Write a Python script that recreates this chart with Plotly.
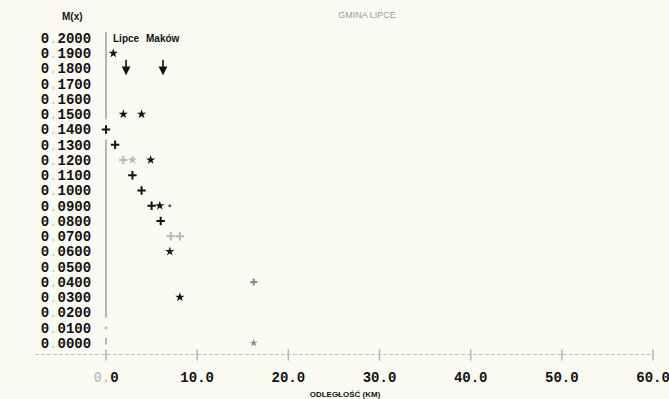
import plotly.graph_objects as go

# Gmina Lipce: M(x) against distance (km)
star_dark_x = [0.8, 1.9, 3.9, 4.9, 5.9, 7.0, 8.1]
star_dark_y = [0.19, 0.15, 0.15, 0.12, 0.09, 0.06, 0.03]

plus_dark_x = [0.0, 1.0, 2.9, 3.9, 5.0, 6.0]
plus_dark_y = [0.14, 0.13, 0.11, 0.10, 0.09, 0.08]

plus_light_x = [1.9, 7.1, 8.1]
plus_light_y = [0.12, 0.07, 0.07]

star_light_x = [2.9]
star_light_y = [0.12]

far_plus_x = [16.2]
far_plus_y = [0.04]
far_star_x = [16.2]
far_star_y = [0.0]

dot_x = [7.0, 0.0]
dot_y = [0.09, 0.01]

y_ticks = [i / 100 for i in range(0, 21)]
x_ticks = [0, 10, 20, 30, 40, 50, 60]

towns = ["Lipce", "Maków"]
town_x = [2.2, 6.25]

X_MIN, X_MAX = -8.336, 60.764
Y_MIN, Y_MAX = -0.00787, 0.20525
BASE_Y = Y_MIN

GRAY = "#b4b4b4"
INK = "#111111"
MONO = "Liberation Mono"


def y_label(v):
    s = f"{v:.4f}"
    head, tail = s.split(".")
    return f"{head}<span style='color:#cfcfcf'>.</span>{tail}"


def x_label(v):
    if v == 0:
        return "<span style='color:#c4c4c4'>0.</span>0"
    return f"{v:.1f}"


fig = go.Figure()

# vertical guide at x = 0, broken where points sit on it
on_axis = sorted(y for x, y in zip(plus_dark_x + dot_x, plus_dark_y + dot_y) if x == 0)
gap = 0.0065
top, bottom = 0.2039, -0.001
seg_x, seg_y = [], []
cur = top
for v in sorted(on_axis, reverse=True):
    seg_x += [0, 0, None]
    seg_y += [cur, v + gap, None]
    cur = v - gap
seg_x += [0, 0]
seg_y += [cur, bottom]
fig.add_trace(go.Scatter(x=seg_x, y=seg_y, mode="lines",
                         line=dict(color=GRAY, width=2), hoverinfo="skip",
                         showlegend=False))

# dashed baseline with tick marks
fig.add_trace(go.Scatter(x=[-7.79, 60], y=[BASE_Y, BASE_Y], mode="lines",
                         line=dict(color=GRAY, width=1.5, dash="4px,2px"),
                         cliponaxis=False, hoverinfo="skip", showlegend=False))
fig.add_trace(go.Scatter(x=x_ticks, y=[BASE_Y] * len(x_ticks), mode="markers",
                         marker=dict(symbol="line-ns", size=8,
                                     line=dict(color=GRAY, width=1.5)),
                         cliponaxis=False, hoverinfo="skip", showlegend=False))


def stars(x, y, color, size=7):
    fig.add_trace(go.Scatter(x=x, y=y, mode="markers", showlegend=False,
                             marker=dict(symbol="star", size=size, color=color,
                                         line=dict(width=0))))


def pluses(x, y, color, size=6):
    fig.add_trace(go.Scatter(x=x, y=y, mode="markers", showlegend=False,
                             marker=dict(symbol="cross-thin", size=size,
                                         line=dict(color=color, width=2))))


stars(star_dark_x, star_dark_y, INK)
pluses(plus_dark_x, plus_dark_y, INK)
pluses(plus_light_x, plus_light_y, "#b8b8b8")
stars(star_light_x, star_light_y, "#b8b8b8")
pluses(far_plus_x, far_plus_y, "#8a8a8a", 5)
stars(far_star_x, far_star_y, "#8a8a8a", 6)
fig.add_trace(go.Scatter(x=dot_x, y=dot_y, mode="markers", showlegend=False,
                         marker=dict(symbol="circle", size=3,
                                     color=["#555555", "#c8b8bc"])))

annotations = []
for name, tx in zip(towns, town_x):
    annotations.append(dict(x=tx, y=0.2, xref="x", yref="y", text=name,
                            showarrow=False, yanchor="middle", xanchor="center",
                            font=dict(family="Liberation Sans", size=10,
                                      color=INK, weight="bold")))
    annotations.append(dict(x=tx, y=0.1755, xref="x", yref="y", text="",
                            showarrow=True, ax=0, ay=-17, arrowhead=2,
                            arrowsize=1.1, arrowwidth=1.6, arrowcolor=INK,
                            standoff=0))

annotations.append(dict(x=(72 - 30) / 630, y=(355 - 16) / 325, xref="paper",
                        yref="paper", text="M(x)", showarrow=False,
                        xanchor="center", yanchor="middle",
                        font=dict(family="Liberation Sans", size=10,
                                  color=INK, weight="bold")))

fig.update_layout(
    width=669, height=399,
    margin=dict(l=30, r=9, t=30, b=44),
    paper_bgcolor="#fbfbf4", plot_bgcolor="#fbfbf4",
    title=dict(text="GMINA LIPCE", x=367 / 669, xanchor="center",
               y=1 - 15 / 399, yanchor="middle",
               font=dict(family="Liberation Sans", size=9, color="#9a9a9a")),
    xaxis=dict(range=[X_MIN, X_MAX], tickvals=x_ticks,
               ticktext=[x_label(v) for v in x_ticks],
               showgrid=False, zeroline=False, showline=False, ticks="",
               automargin=False,
               ticklabelstandoff=12, ticklabeloverflow="allow",
               tickfont=dict(family=MONO, size=14, color=INK, weight="bold"),
               title=dict(text="ODLEGŁOŚĆ (KM)", standoff=9,
                          font=dict(family="Liberation Sans", size=8,
                                    color=INK, weight="bold"))),
    yaxis=dict(range=[Y_MIN, Y_MAX], tickvals=y_ticks,
               ticktext=[y_label(v) for v in y_ticks],
               anchor="free", position=0.097, automargin=False,
               showgrid=False, zeroline=False, showline=False, ticks="",
               tickfont=dict(family=MONO, size=14, color=INK, weight="bold")),
    annotations=annotations,
)

fig.write_html("out.html")
